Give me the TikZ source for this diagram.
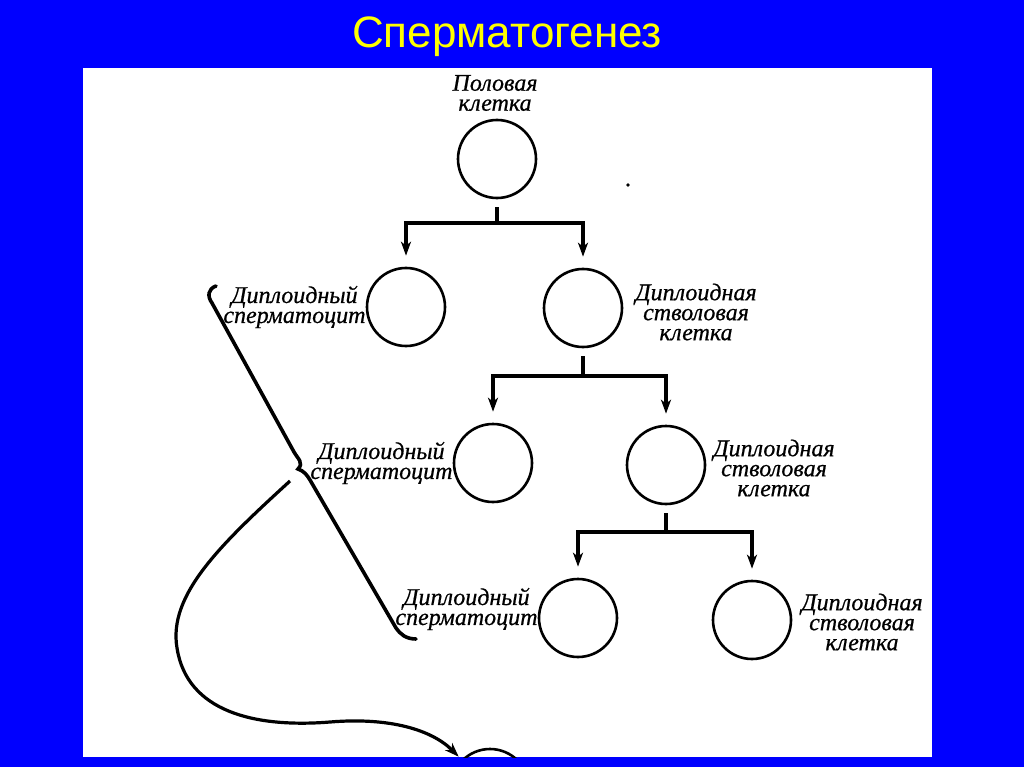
\documentclass[tikz,border=0pt]{standalone}
\usepackage{fontspec}
\setmainfont{Liberation Serif}
\newfontfamily\titlefont{Liberation Sans}
\newfontfamily\labfont{Liberation Serif}[FakeBold=0.6]
\usetikzlibrary{arrows.meta}
\definecolor{bgblue}{RGB}{0,0,255}
\definecolor{titleyellow}{RGB}{255,255,0}
\begin{document}
\begin{tikzpicture}[x=1pt,y=-1pt,
  cell/.style={circle, draw, line width=2.6pt, minimum size=78pt, inner sep=0pt},
  stem/.style={line width=3.2pt, shorten <=8pt},
  branch/.style={line width=3.2pt, -{Stealth[length=14pt,width=10pt,inset=4pt]}, shorten >=11pt},
  lab/.style={font=\labfont\itshape\fontsize{24}{20}\selectfont, inner sep=0pt, align=center},
  brace/.style={line width=3.6pt, line cap=round},
  curvearrow/.style={line width=3.2pt, -{Stealth[length=14pt,width=10pt,inset=4pt]}, shorten >=4pt},
]
\useasboundingbox (0,0) rectangle (1024,767);
\fill[bgblue] (0,0) rectangle (1024,767);
\fill[white] (83,68) rectangle (932,757);
\node[font=\titlefont\fontsize{44}{44}\selectfont, text=titleyellow, anchor=base, inner sep=0pt] (title) at (507,48) {Сперматогенез};

\begin{scope}
\clip (83,68) rectangle (932,757);
% cells
\node[cell] (c1) at (497,159) {};
\node[cell] (c2l) at (406,307) {};
\node[cell] (c2r) at (583,308) {};
\node[cell] (c3l) at (493,463) {};
\node[cell] (c3r) at (666,465) {};
\node[cell] (c4l) at (578,618) {};
\node[cell] (c4r) at (752,620) {};
\node[cell] (c5) at (490,788) {};

% junctions
\coordinate (j1) at (497,223);
\coordinate (j2) at (583,376);
\coordinate (j3) at (666,532);

\draw[stem] (c1) -- (j1);
\draw[branch] (j1) -| (c2l);
\draw[branch] (j1) -| (c2r);
\draw[stem] (c2r) -- (j2);
\draw[branch] (j2) -| (c3l);
\draw[branch] (j2) -| (c3r);
\draw[stem] (c3r) -- (j3);
\draw[branch] (j3) -| (c4l);
\draw[branch] (j3) -| (c4r);

% labels
\node[lab] (l1) at (495,93) {Половая\\клетка};
\node[lab, anchor=east] (l2l) at (c2l.west) {Диплоидный\\сперматоцит};
\node[lab] (l2r) at (696,312) {Диплоидная\\стволовая\\клетка};
\node[lab, anchor=east] (l3l) at (c3l.west) {Диплоидный\\сперматоцит};
\node[lab] (l3r) at (774,468) {Диплоидная\\стволовая\\клетка};
\node[lab, anchor=east] (l4l) at ([yshift=9pt]c4l.west) {Диплоидный\\сперматоцит};
\node[lab] (l4r) at (862,622) {Диплоидная\\стволовая\\клетка};

% brace
\draw[brace] (216,286) .. controls (208,289) and (207,296) .. (212,303)
  -- (294,452) .. controls (298,459) and (304,463) .. (298,469)
  .. controls (304,471) and (307,475) .. (310,480)
  -- (396,628) .. controls (400,634) and (406,639) .. (416,639);

% curved arrow
\coordinate (bstart) at (290,481);
\draw[curvearrow] (bstart) .. controls (220,545) and (168,595) .. (177,648)
  .. controls (187,712) and (255,728) .. (330,722)
  .. controls (390,717) and (432,730) .. (c5);

% speck
\fill (628,185) circle (1.8pt);
\end{scope}
\end{tikzpicture}
\end{document}
